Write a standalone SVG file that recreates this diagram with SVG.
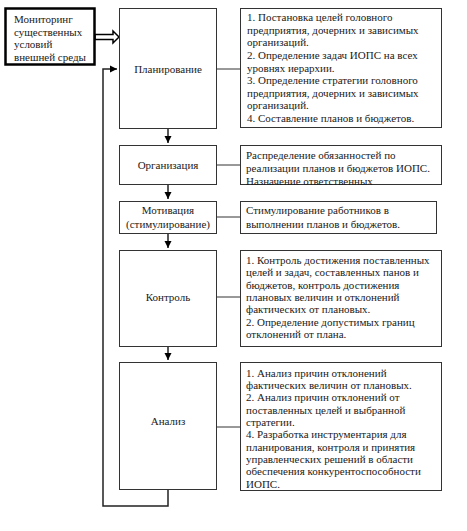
<svg xmlns="http://www.w3.org/2000/svg" width="467" height="531" viewBox="0 0 467 531">
<defs>
<style>
.t{font-family:"Liberation Serif","Times New Roman",serif;font-size:11px;fill:#1a1a1a}
.b{font-family:"Liberation Serif","Times New Roman",serif;font-size:11px;fill:#1a1a1a}
.c{text-anchor:middle}
.box{fill:#fff;stroke:#333;stroke-width:1}
.ln{stroke:#222;stroke-width:1.5;fill:none}
.thin{stroke:#333;stroke-width:1;fill:none}
</style>
<marker id="ah" markerWidth="8" markerHeight="8" refX="7" refY="4" orient="auto" markerUnits="userSpaceOnUse">
<path d="M0,0.5 L7,4 L0,7.5 Z" fill="#000"/>
</marker>
<clipPath id="clipOrg"><rect x="240" y="145" width="202" height="40"/></clipPath>
</defs>
<rect width="467" height="531" fill="#fff"/>

<g id="connectors">
<polygon points="95,34.5 113,34.5 113,31 119,37 113,43 113,39.5 95,39.5" fill="#fff" stroke="#000" stroke-width="1.5"/>
<path class="ln" d="M168,490 V506 H103 V69 H117" marker-end="url(#ah)"/>
<path class="ln" d="M168,129 V143" marker-end="url(#ah)"/>
<path class="ln" d="M168,185 V199" marker-end="url(#ah)"/>
<path class="ln" d="M168,234 V248" marker-end="url(#ah)"/>
<path class="ln" d="M168,347 V360" marker-end="url(#ah)"/>
<path class="thin" d="M217,69 H240"/>
<path class="thin" d="M217,165 H240"/>
<path class="thin" d="M217,217 H240"/>
<path class="thin" d="M217,297 H240"/>
<path class="thin" d="M217,427 H240"/>
</g>

<g id="monitoring">
<rect x="5.5" y="8.5" width="89" height="56" fill="#fff" stroke="#000" stroke-width="2.5"/>
<text class="t" x="14" y="23">Мониторинг</text>
<text class="t" x="14" y="36">существенных</text>
<text class="t" x="14" y="48">условий</text>
<text class="t" x="14" y="61">внешней среды</text>
</g>

<g id="planning">
<rect class="box" x="119.5" y="8.5" width="97" height="120"/>
<text class="t c" x="168" y="73">Планирование</text>
</g>
<g id="planning-text">
<rect class="box" x="240.5" y="8.5" width="201" height="119"/>
<text class="b" x="247" y="21">1. Постановка целей головного</text>
<text class="b" x="247" y="34">предприятия, дочерних и зависимых</text>
<text class="b" x="247" y="46">организаций.</text>
<text class="b" x="247" y="59">2. Определение задач ИОПС на всех</text>
<text class="b" x="247" y="72">уровнях иерархии.</text>
<text class="b" x="247" y="84">3. Определение стратегии головного</text>
<text class="b" x="247" y="97">предприятия, дочерних и зависимых</text>
<text class="b" x="247" y="109">организаций.</text>
<text class="b" x="247" y="122">4. Составление планов и бюджетов.</text>
</g>

<g id="organization">
<rect class="box" x="119.5" y="145.5" width="97" height="39"/>
<text class="t c" x="168" y="169">Организация</text>
</g>
<g id="organization-text">
<rect class="box" x="240.5" y="145.5" width="201" height="39"/>
<g clip-path="url(#clipOrg)">
<text class="b" x="246" y="159">Распределение обязанностей по</text>
<text class="b" x="246" y="172">реализации планов и бюджетов ИОПС.</text>
<text class="b" x="246" y="185">Назначение ответственных</text>
</g>
</g>

<g id="motivation">
<rect class="box" x="119.5" y="201.5" width="97" height="32"/>
<text class="t c" x="168" y="214">Мотивация</text>
<text class="t c" x="168" y="228">(стимулирование)</text>
</g>
<g id="motivation-text">
<rect class="box" x="240.5" y="201.5" width="196" height="32"/>
<text class="b" x="246" y="214">Стимулирование работников в</text>
<text class="b" x="246" y="228">выполнении планов и бюджетов.</text>
</g>

<g id="control">
<rect class="box" x="119.5" y="250.5" width="97" height="96"/>
<text class="t c" x="168" y="301">Контроль</text>
</g>
<g id="control-text">
<rect class="box" x="240.5" y="250.5" width="201" height="96"/>
<text class="b" x="246" y="264">1. Контроль достижения поставленных</text>
<text class="b" x="246" y="276">целей и задач, составленных панов и</text>
<text class="b" x="246" y="289">бюджетов, контроль достижения</text>
<text class="b" x="246" y="301">плановых величин и отклонений</text>
<text class="b" x="246" y="313">фактических от плановых.</text>
<text class="b" x="246" y="326">2. Определение допустимых границ</text>
<text class="b" x="246" y="338">отклонений от плана.</text>
</g>

<g id="analysis">
<rect class="box" x="119.5" y="362.5" width="97" height="127"/>
<text class="t c" x="168" y="425">Анализ</text>
</g>
<g id="analysis-text">
<rect class="box" x="240.5" y="362.5" width="201" height="128"/>
<text class="b" x="246" y="377">1. Анализ причин отклонений</text>
<text class="b" x="246" y="389">фактических величин от плановых.</text>
<text class="b" x="246" y="401">2. Анализ причин отклонений от</text>
<text class="b" x="246" y="414">поставленных целей и выбранной</text>
<text class="b" x="246" y="426">стратегии.</text>
<text class="b" x="246" y="438">4. Разработка инструментария для</text>
<text class="b" x="246" y="451">планирования, контроля и принятия</text>
<text class="b" x="246" y="463">управленческих решений в области</text>
<text class="b" x="246" y="475">обеспечения конкурентоспособности</text>
<text class="b" x="246" y="488">ИОПС.</text>
</g>
</svg>
